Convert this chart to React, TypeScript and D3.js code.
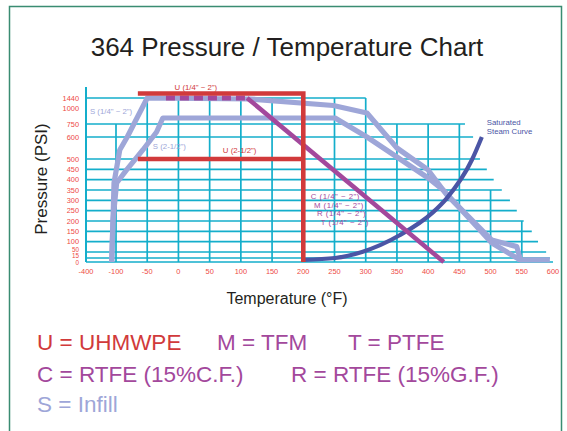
import React from "react";
import * as d3 from "d3";

// ---------- axis ticks ----------
const xTickLabels = [-400, -100, -50, 0, 50, 100, 150, 200, 250, 300, 350, 400, 450, 500, 550, 600];
const yTickLabels = [0, 15, 50, 100, 150, 200, 250, 300, 350, 400, 450, 500, 600, 750, 1000, 1440];

// ---------- stepped grid ----------
const gridRows = [0, 15, 50, 100, 150, 200, 250, 300, 350, 400, 450, 500, 600, 750, 1440];
const gridRowEnds = [600, 595, 589, 576, 566, 553, 542, 531, 518, 505, 494, 483, 472, 459, 300];
const gridCols = [-100, -50, 0, 50, 100, 150, 200, 250, 300, 350, 400, 450, 500, 550];
const gridColTops = [750, 1440, 1440, 1440, 1440, 1440, 1440, 1440, 1440, 750, 750, 750, 350, 200];
const axisTopPsi = 1880;

// ---------- series (temperature °F, pressure PSI) ----------
const uSmallTemp = [-65, 200, 200];
const uSmallPsi = [1620, 1620, 0];
const uLargeTemp = [-65, 200];
const uLargePsi = [500, 500];

const cmrtFlatTemp = [-20, 110];
const cmrtFlatPsi = [1440, 1440];
const cmrtSlopeTemp = [110, 425];
const cmrtSlopePsi = [1440, 0];

const sSmallTemp = [-143, -130, -120, -94, -82, -50, 115, 248, 302, 350, 400, 430, 502, 542, 547, 547];
const sSmallPsi = [0, 205, 384, 541, 600, 1440, 1400, 1140, 933, 550, 447, 326, 108, 76, 15, 0];

const sLargeTemp = [-143, -130, -99, -83, -57, -35, -25, 251, 302, 350, 400, 424, 502, 547, 595];
const sLargePsi = [0, 205, 384, 447, 541, 658, 850, 850, 600, 509, 408, 350, 94, 8, 8];

const steamTemp = [200, 251, 294, 355, 408, 430, 470, 486];
const steamPsi = [8, 15, 50, 132, 243, 311, 495, 600];

// ---------- annotations ----------
const annoText = ['U (1/4" ~ 2")', 'U (2-1/2")', 'S (1/4" ~ 2")', 'S (2-1/2")', 'C (1/4" ~ 2")', 'M (1/4" ~ 2")', 'R (1/4" ~ 2")', 'T (1/4" ~ 2")', "Saturated", "Steam Curve"];
const annoTemp = [28, 98, -360, -41, 212, 217, 222, 228, 494, 494];
const annoPsi = [1880, 541, 955, 559, 318, 277, 237, 192, 778, 669];
const annoKind = ["u", "u", "s", "s", "c", "c", "c", "c", "steam", "steam"];

const legendRows = [
  [["U = UHMWPE", "u"], ["M = TFM", "c"], ["T = PTFE", "c"]],
  [["C = RTFE (15%C.F.)", "c"], ["R = RTFE (15%G.F.)", "c"]],
  [["S = Infill", "s"]],
];

const COLORS: Record<string, string> = {
  u: "#d13a3b",
  c: "#a3489c",
  s: "#9ea6d8",
  steam: "#4b55a5",
  grid: "#14aecb",
  tick: "#ee4a44",
  frame: "#3a8c72",
};

const zip = (a: number[], b: number[]) => a.map((v, i) => [v, b[i]] as [number, number]);

export default function App() {
  const W = 567;
  const H = 431;
  const x = d3.scaleLinear().domain([-400, -100, 600]).range([86, 116, 553]);
  const y = d3
    .scaleLinear()
    .domain([0, 15, 50, 500, 600, 750, 1000, 1440])
    .range([262, 258, 252, 159, 137, 124, 109, 98]);

  const line = d3
    .line<[number, number]>()
    .x((d) => x(d[0]))
    .y((d) => y(d[1]));
  const smooth = d3
    .line<[number, number]>()
    .x((d) => x(d[0]))
    .y((d) => y(d[1]))
    .curve(d3.curveMonotoneX);

  const font = "'Liberation Sans', Arial, sans-serif";
  const yNudge: Record<number, number> = { 0: 0.8, 15: -2, 50: -2.3, 1000: -0.5 };
  const ySmall: Record<number, boolean> = { 0: true, 15: true, 50: true };
  const legendX = [[37, 217, 348], [37, 291], [37]];
  const legendY = [350, 382, 412];

  return (
    <svg width={W} height={H} style={{ position: "absolute", left: 0, top: 0 }} fontFamily={font}>
      <rect x={0} y={0} width={W} height={H} fill="#fff" />
      <path d={`M9.5,${H + 5} V6.5 H561.5 V${H + 5}`} fill="none" stroke={COLORS.frame} strokeWidth={1.5} />

      <text x={287} y={56} textAnchor="middle" fontSize={26} fill="#231f20">
        364 Pressure / Temperature Chart
      </text>

      {/* grid */}
      <g stroke={COLORS.grid} strokeWidth={1.7}>
        {gridRows.map((p, i) => (
          <line key={"r" + i} x1={x(-400)} x2={x(gridRowEnds[i])} y1={y(p)} y2={y(p)} />
        ))}
        {gridCols.map((t, i) => (
          <line key={"c" + i} x1={x(t)} x2={x(t)} y1={y(0)} y2={y(gridColTops[i])} />
        ))}
        <line x1={x(-400)} x2={x(-400)} y1={y(0)} y2={y(axisTopPsi)} strokeWidth={2} />
      </g>

      {/* ticks */}
      <g fill={COLORS.tick}>
        {yTickLabels.map((v) => (
          <text
            key={"y" + v}
            x={79}
            y={y(v) + (yNudge[v] || 0)}
            dy="0.35em"
            textAnchor="end"
            fontSize={ySmall[v] ? 6.3 : 7.4}
          >
            {v}
          </text>
        ))}
        {xTickLabels.map((v) => (
          <text key={"x" + v} x={x(v)} y={273.5} textAnchor="middle" fontSize={7.4}>
            {v}
          </text>
        ))}
      </g>

      {/* series */}
      <g fill="none" strokeLinejoin="round">
        <path d={line(zip(sSmallTemp, sSmallPsi)) || ""} stroke={COLORS.s} strokeWidth={5.2} />
        <path d={line(zip(sLargeTemp, sLargePsi)) || ""} stroke={COLORS.s} strokeWidth={5.2} />
        <path d={smooth(zip(steamTemp, steamPsi)) || ""} stroke={COLORS.steam} strokeWidth={4.2} />
        <path d={line(zip(cmrtFlatTemp, cmrtFlatPsi)) || ""} stroke={COLORS.c} strokeWidth={5} strokeDasharray="9,5" />
        <path d={line(zip(cmrtSlopeTemp, cmrtSlopePsi)) || ""} stroke={COLORS.c} strokeWidth={4.5} />
        <path d={line(zip(uLargeTemp, uLargePsi)) || ""} stroke={COLORS.u} strokeWidth={4.6} />
        <path d={line(zip(uSmallTemp, uSmallPsi)) || ""} stroke={COLORS.u} strokeWidth={4.6} strokeLinejoin="miter" />
      </g>

      {/* annotations */}
      <g>
        {annoText.map((t, i) => (
          <text
            key={"a" + i}
            x={x(annoTemp[i])}
            y={y(annoPsi[i])}
            dy="0.35em"
            fontSize={7.8}
            letterSpacing={annoKind[i] === "c" ? 0.5 : 0}
            textAnchor={annoKind[i] === "u" ? "middle" : "start"}
            fill={COLORS[annoKind[i]]}
          >
            {t}
          </text>
        ))}
      </g>

      {/* axis titles */}
      <text x={287} y={304} textAnchor="middle" fontSize={16} fill="#231f20">
        Temperature (°F)
      </text>
      <text transform="translate(47,179) rotate(-90)" textAnchor="middle" fontSize={17} fill="#231f20">
        Pressure (PSI)
      </text>

      {/* legend */}
      <g fontSize={22.5}>
        {legendRows.map((row, r) =>
          row.map(([label, kind], c) => (
            <text key={label} x={legendX[r][c]} y={legendY[r]} fill={COLORS[kind]}>
              {label}
            </text>
          ))
        )}
      </g>
    </svg>
  );
}
